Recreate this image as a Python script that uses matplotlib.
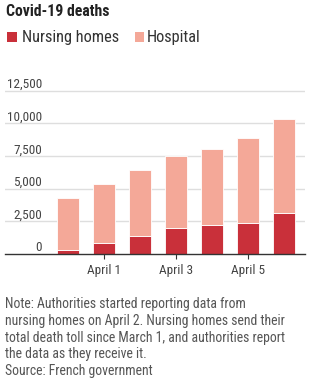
import numpy as np
import matplotlib.pyplot as plt
from matplotlib.patches import Rectangle
from matplotlib.transforms import blended_transform_factory

plt.rcParams["font.family"] = ["Roboto Condensed", "Roboto", "DejaVu Sans"]

# data (cumulative deaths)
days = ["March 31", "April 1", "April 2", "April 3", "April 4", "April 5", "April 6"]
nursing_homes = [310, 850, 1410, 2000, 2180, 2380, 3140]
hospital = [4010, 4490, 5000, 5480, 5830, 6470, 7170]
y_ticks = [0, 2500, 5000, 7500, 10000, 12500]
x_tick_days = ["April 1", "April 3", "April 5"]

NURSING = "#c9303a"
HOSP = "#f4a898"
W, H = 313, 387


def fx(px):
    return px / W


def fy(py):
    return 1 - py / H


def fit_size(fig, txt, target_px):
    # scale font size so the text is as wide as in the reference
    r = fig.canvas.get_renderer()
    w = txt.get_window_extent(r).width
    return txt.get_fontsize() * target_px / w


fig = plt.figure(figsize=(W / 100, H / 100), dpi=100)
# axes: x 5..305 px, baseline at 254 px, 13000 at ~84 px
ax = fig.add_axes([fx(5), fy(254), fx(300), (254 - 84) / H])

x = np.arange(len(days))
ax.bar(x, nursing_homes, width=0.61, color=NURSING, edgecolor="white", linewidth=0.6, zorder=3)
ax.bar(x, hospital, width=0.61, bottom=nursing_homes, color=HOSP, edgecolor="white", linewidth=0.6, zorder=3)

ax.set_xlim(-1.75, 6.58)
ax.set_ylim(0, 13000)

for v in y_ticks[1:]:
    ax.axhline(v, color="#dedede", linewidth=1, zorder=1)

# font sizes fitted to the reference widths
probe = fig.text(0, 0, "12,500", fontsize=10)
tick_fs = fit_size(fig, probe, 35)
probe.set_text("nursing homes on April 2. Nursing homes send their")
note_fs = fit_size(fig, probe, 279)
probe.set_text("Nursing homes")
leg_fs = fit_size(fig, probe, 97)
probe.set_text("Covid-19 deaths")
probe.set_fontweight("bold")
title_fs = fit_size(fig, probe, 104)
probe.remove()

trans = blended_transform_factory(fig.transFigure, ax.transData)
for v in y_ticks:
    ax.text(fx(42), v + 200, f"{v:,}", transform=trans, ha="right", va="baseline",
            fontsize=tick_fs, color="#444444")

ax.set_yticks([])
ax.set_xticks([days.index(d) for d in x_tick_days])
ax.set_xticklabels(x_tick_days, fontsize=tick_fs, color="#444444")
ax.tick_params(axis="x", length=3.5, width=0.8, color="#333333", pad=4)

for s in ["top", "right", "left"]:
    ax.spines[s].set_visible(False)
ax.spines["bottom"].set_color("#333333")
ax.spines["bottom"].set_linewidth(1)
ax.spines["bottom"].set_zorder(4)

# title and legend
fig.text(fx(6), fy(16), "Covid-19 deaths", fontsize=title_fs, fontweight="bold",
         color="#222222", va="baseline", ha="left")
fig.patches.append(Rectangle((fx(7.3), fy(42.3)), 10 / W, 10 / H, transform=fig.transFigure,
                             facecolor=NURSING, edgecolor="none"))
fig.text(fx(21.7), fy(42.3), "Nursing homes", fontsize=leg_fs, color="#333333", va="baseline")
fig.patches.append(Rectangle((fx(135), fy(42.3)), 9 / W, 10 / H, transform=fig.transFigure,
                             facecolor=HOSP, edgecolor="none"))
fig.text(fx(146.7), fy(42.3), "Hospital", fontsize=leg_fs, color="#333333", va="baseline")

note = ["Note: Authorities started reporting data from",
        "nursing homes on April 2. Nursing homes send their",
        "total death toll since March 1, and authorities report",
        "the data as they receive it.",
        "Source: French government"]
for i, line in enumerate(note):
    fig.text(fx(5), fy(308.3 + i * 16.7), line, fontsize=note_fs, color="#555555",
             va="baseline", ha="left")

fig.savefig("out.png", dpi=100)
